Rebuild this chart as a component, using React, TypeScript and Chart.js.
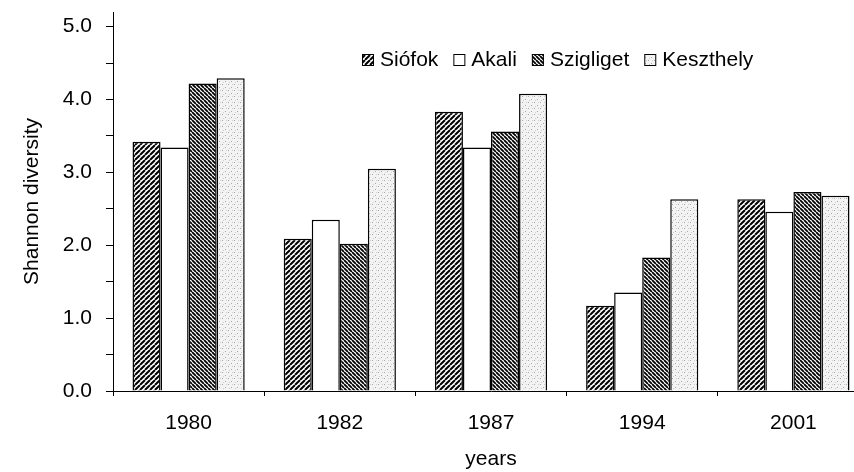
import React, { useEffect, useRef } from 'react';
import { Chart, registerables } from 'chart.js';

Chart.register(...registerables);

const years = ['1980', '1982', '1987', '1994', '2001'];
const seriesNames = ['Siófok', 'Akali', 'Szigliget', 'Keszthely'];
const siofok = [3.42, 2.09, 3.83, 1.17, 2.63];
const akali = [3.34, 2.35, 3.34, 1.35, 2.46];
const szigliget = [4.22, 2.02, 3.56, 1.83, 2.73];
const keszthely = [4.29, 3.05, 4.08, 2.63, 2.68];
const yMin = 0;
const yMax = 5.2;
const yTickValues = [0, 0.5, 1, 1.5, 2, 2.5, 3, 3.5, 4, 4.5, 5];
const xTitle = 'years';
const yTitle = 'Shannon diversity';

const FONT = '"Liberation Sans", Arial, sans-serif';

function hatch(dir: number, period: number, lw: number) {
  const c = document.createElement('canvas');
  c.width = period;
  c.height = period;
  const g = c.getContext('2d')!;
  g.fillStyle = '#fff';
  g.fillRect(0, 0, period, period);
  g.strokeStyle = '#000';
  g.lineWidth = lw;
  g.beginPath();
  for (const off of [-period, 0, period]) {
    if (dir === 1) {
      g.moveTo(off, period);
      g.lineTo(off + period, 0);
    } else {
      g.moveTo(off, 0);
      g.lineTo(off + period, period);
    }
  }
  g.stroke();
  return g.createPattern(c, 'repeat');
}

function dots() {
  const c = document.createElement('canvas');
  c.width = 6;
  c.height = 6;
  const g = c.getContext('2d')!;
  g.fillStyle = '#f3f3f3';
  g.fillRect(0, 0, 6, 6);
  g.fillStyle = '#a8a8a8';
  g.fillRect(0, 0, 1, 1);
  g.fillRect(3, 3, 1, 1);
  g.fillStyle = '#cfcfcf';
  g.fillRect(4, 0, 1, 1);
  g.fillRect(1, 4, 1, 1);
  return g.createPattern(c, 'repeat');
}

const legendPlugin = {
  id: 'boxLegend',
  afterDraw(chart: any) {
    const ctx = chart.ctx;
    ctx.save();
    ctx.font = '21px ' + FONT;
    ctx.textBaseline = 'middle';
    ctx.textAlign = 'left';
    let x = 362;
    const cy = 60;
    const box = 12;
    chart.data.datasets.forEach((ds: any) => {
      ctx.fillStyle = ds.backgroundColor;
      ctx.fillRect(x, cy - box / 2, box, box);
      ctx.strokeStyle = '#000';
      ctx.lineWidth = 1;
      ctx.strokeRect(x + 0.5, cy - box / 2 + 0.5, box - 1, box - 1);
      x += box + 6;
      ctx.fillStyle = '#000';
      ctx.fillText(ds.label, x, cy);
      x += ctx.measureText(ds.label).width + 15;
    });
    ctx.restore();
  },
};

export default function App() {
  const ref = useRef<HTMLCanvasElement | null>(null);

  useEffect(() => {
    if (!ref.current) return;
    const fills = [hatch(1, 5, 2), '#ffffff', hatch(-1, 4, 1.8), dots()];
    const values = [siofok, akali, szigliget, keszthely];
    const chart = new Chart(ref.current, {
      type: 'bar',
      data: {
        labels: years,
        datasets: seriesNames.map((name, i) => ({
          label: name,
          data: values[i],
          backgroundColor: fills[i] as any,
          borderColor: '#000',
          borderWidth: 1.5,
          categoryPercentage: 0.742,
          barPercentage: 1,
        })),
      },
      options: {
        responsive: false,
        animation: false,
        devicePixelRatio: 1,
        layout: { padding: { top: 12, right: 3, left: 0, bottom: 0 } },
        plugins: { legend: { display: false }, tooltip: { enabled: false } },
        scales: {
          x: {
            offset: true,
            grid: {
              display: true,
              drawOnChartArea: false,
              drawTicks: true,
              tickLength: 5,
              color: '#000',
              offset: true,
            },
            border: { display: true, color: '#000', width: 1 },
            ticks: {
              color: '#000',
              font: { size: 21, family: FONT },
              padding: 15,
              maxRotation: 0,
              autoSkip: false,
            },
            title: {
              display: true,
              text: xTitle,
              color: '#000',
              font: { size: 21, family: FONT },
              padding: { top: 0, bottom: 0 },
            },
            afterFit: (s: any) => {
              s.height = 81;
              s.paddingLeft = 0;
              s.paddingRight = 0;
            },
          },
          y: {
            min: yMin,
            max: yMax,
            grid: {
              drawOnChartArea: false,
              drawTicks: true,
              tickLength: 7,
              color: '#000',
            },
            border: { display: true, color: '#000', width: 1 },
            ticks: {
              autoSkip: false,
              color: '#000',
              font: { size: 21, family: FONT },
              padding: 14,
              callback: (v: any) => {
                const n = Number(v);
                return Math.abs(n - Math.round(n)) < 1e-6 ? n.toFixed(1) : '';
              },
            },
            title: {
              display: true,
              text: yTitle,
              color: '#000',
              font: { size: 21, family: FONT },
              padding: { top: 20, bottom: 0 },
            },
            afterBuildTicks: (s: any) => {
              s.ticks = yTickValues.map((v) => ({ value: v }));
            },
            afterFit: (s: any) => {
              s.width = 113;
              s.paddingTop = 0;
              s.paddingBottom = 0;
            },
          },
        },
      },
      plugins: [legendPlugin],
    });
    return () => chart.destroy();
  }, []);

  return (
    <div
      style={{
        position: 'fixed',
        left: 0,
        top: 0,
        width: 854,
        height: 472,
        overflow: 'hidden',
        background: '#fff',
      }}
    >
      <canvas ref={ref} width={872} height={472} style={{ display: 'block', width: 872, height: 472 }} />
    </div>
  );
}
